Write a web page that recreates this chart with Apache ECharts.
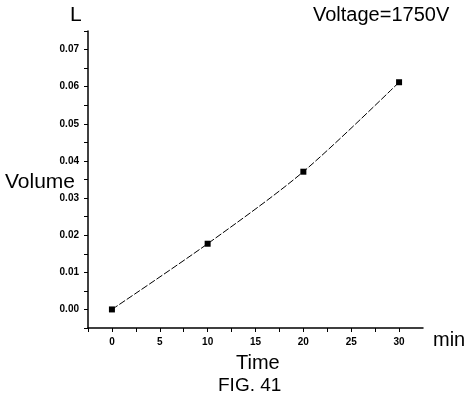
<!DOCTYPE html>
<html><head><meta charset="utf-8">
<script src="https://cdn.jsdelivr.net/npm/echarts@6/dist/echarts.min.js"></script>
<style>html,body{margin:0;padding:0;background:#fff}#c{width:468px;height:404px}</style>
</head><body><div id="c"></div>
<script>
const timeMin = [0, 10, 20, 30];
const volumeL = [0.0, 0.0177, 0.0371, 0.0612];
const yTickLabels = ['0.00','0.01','0.02','0.03','0.04','0.05','0.06','0.07'];
const xTickLabels = ['0','5','10','15','20','25','30'];

const chart = echarts.init(document.getElementById('c'));
const tickFont = {fontFamily:'"Liberation Sans Narrow","Liberation Sans",Arial,sans-serif', fontWeight:'bold', fontSize:10, color:'#000'};
const txt = 'Arial,"Liberation Sans",sans-serif';
chart.setOption({
  animation:false,
  backgroundColor:'#fff',
  grid:{left:88,right:45,top:31,bottom:76},
  xAxis:{type:'value',min:-2.5,max:32.5,interval:2.5,
    axisLine:{onZero:false,lineStyle:{color:'#000',width:1.5}},
    axisTick:{show:true,inside:false,length:4,lineStyle:{color:'#000'}},
    axisLabel:Object.assign({margin:9,showMaxLabel:false,formatter:v=>{const s=String(Math.round(v*10)/10);return xTickLabels.includes(s)?s:'';}},tickFont),
    splitLine:{show:false}},
  yAxis:{type:'value',min:-0.005,max:0.075,interval:0.005,
    axisLine:{onZero:false,lineStyle:{color:'#000',width:1.5}},
    axisTick:{show:true,inside:false,length:4,lineStyle:{color:'#000'}},
    axisLabel:Object.assign({margin:9,formatter:v=>{const k=Math.round(v*1000);const s=(k/1000).toFixed(2);return (k%10===0&&yTickLabels.includes(s))?s:'';}},tickFont),
    splitLine:{show:false}},
  series:[{type:'line',smooth:0.3,data:timeMin.map((t,i)=>[t,volumeL[i]]),
    symbol:'rect',symbolSize:6,itemStyle:{color:'#000'},
    lineStyle:{color:'#000',width:1,type:[7,2]}}],
  graphic:[
    {type:'text',left:70,top:5,style:{text:'L',fontFamily:txt,fontSize:21,fill:'#000'}},
    {type:'text',left:313,top:5,style:{text:'Voltage=1750V',fontFamily:txt,fontSize:20,fill:'#000'}},
    {type:'text',left:5,top:172,style:{text:'Volume',fontFamily:txt,fontSize:21,fill:'#000'}},
    {type:'text',left:433,top:330,style:{text:'min',fontFamily:txt,fontSize:20,fill:'#000'}},
    {type:'text',left:236,top:353,style:{text:'Time',fontFamily:txt,fontSize:20,fill:'#000'}},
    {type:'text',left:218,top:376,style:{text:'FIG. 41',fontFamily:txt,fontSize:19,fill:'#000'}}
  ]
});
</script></body></html>
